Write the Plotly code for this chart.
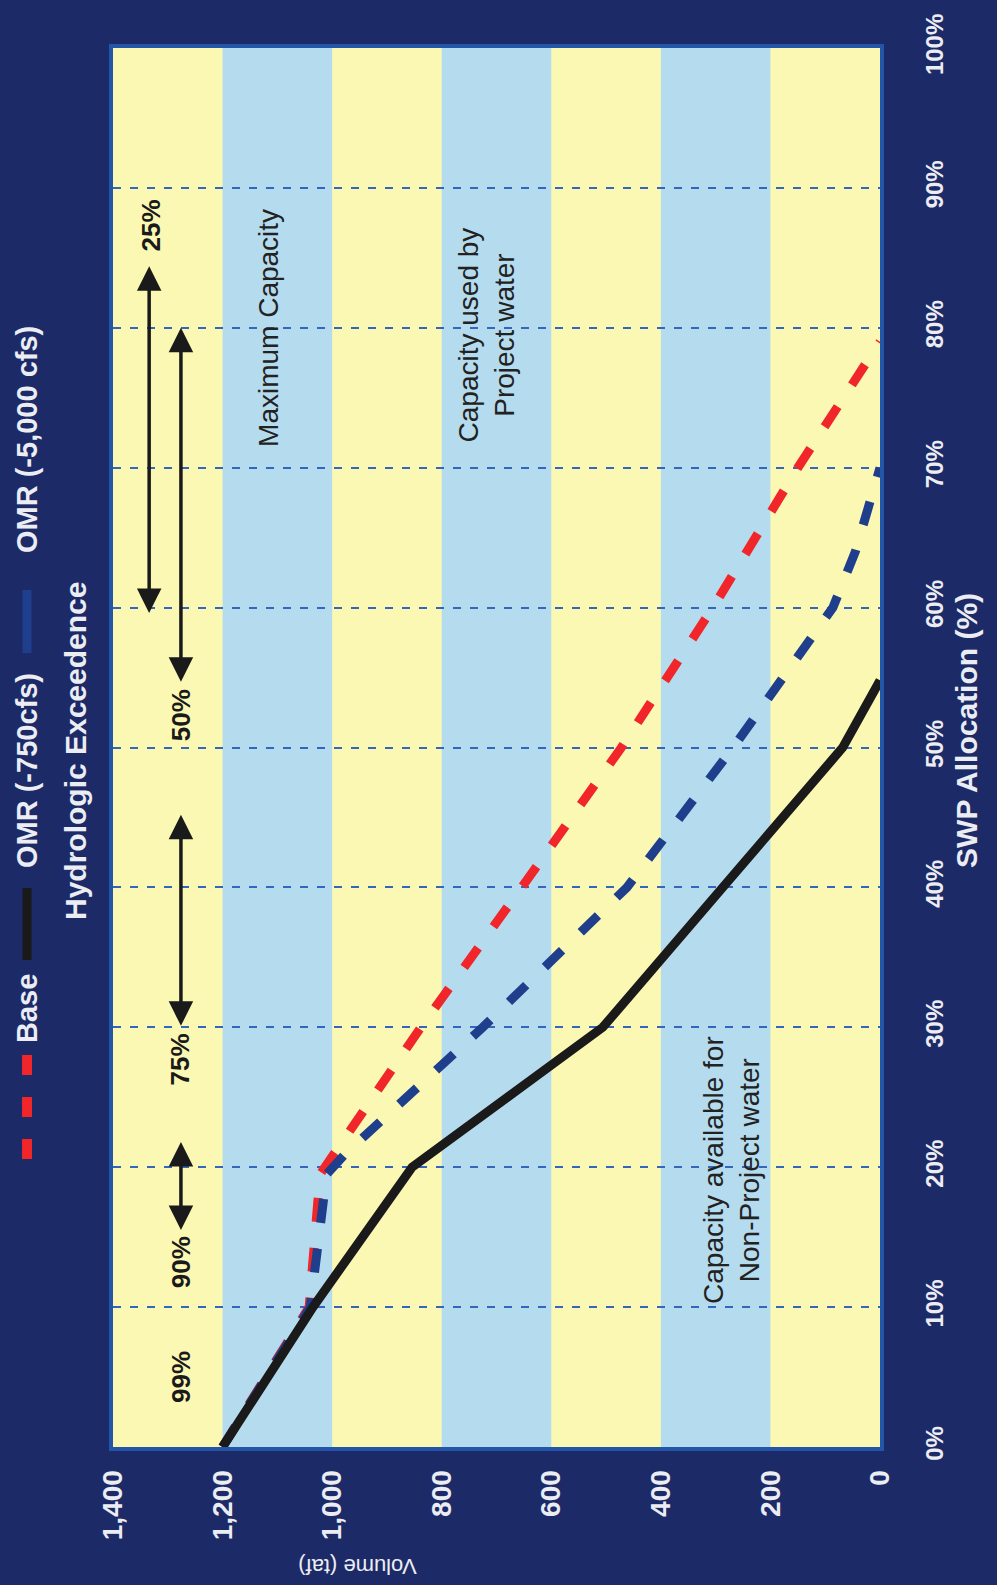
import plotly.graph_objects as go

# ---------------- data ----------------
# SWP Allocation (%) vs Volume (taf)
alloc_base = [0, 10, 19.5, 21.5, 30, 40, 50, 60, 70, 79]
vol_base = [1200, 1042, 1022, 987, 838, 654, 472, 305, 150, 0]

alloc_omr750 = [0, 10, 20, 30, 40, 50, 54.8]
vol_omr750 = [1200, 1035, 854, 506, 287, 68, 0]

alloc_omr5000 = [0, 10, 19.5, 21, 30, 40, 50, 60, 64, 70]
vol_omr5000 = [1200, 1040, 1010, 975, 725, 462, 268, 86, 45, 0]

series_names = ["Base", "OMR (-750cfs)", "OMR (-5,000 cfs)"]

vol_ticks = [0, 200, 400, 600, 800, 1000, 1200, 1400]
vol_ticktext = ["0", "200", "400", "600", "800", "1,000", "1,200", "1,400"]
alloc_ticks = [0, 10, 20, 30, 40, 50, 60, 70, 80, 90, 100]
alloc_ticktext = ["0%", "10%", "20%", "30%", "40%", "50%", "60%", "70%", "80%", "90%", "100%"]

band_edges = [0, 200, 400, 600, 800, 1000, 1200, 1400]

exceed_labels = ["99%", "90%", "75%", "50%", "25%"]
exceed_label_alloc = [5.0, 13.2, 27.7, 52.3, 87.3]
exceed_arrow_start = [None, 15.4, 30.0, 54.6, 59.5]
exceed_arrow_end = [None, 21.8, 45.2, 80.0, 84.4]

# ---------------- style ----------------
FONT = "Liberation Sans, Arial, Helvetica, sans-serif"
NAVY = "#1c2b68"
YELLOW = "#fbf8b4"
LBLUE = "#b5dcee"
RED = "#f0262a"
DBLUE = "#1f3f8c"
BLACK = "#1a1a1a"
WHITE = "#ecedf3"

exceed_label_vol = [1276, 1276, 1276, 1276, 1331]
exceed_arrow_vol = [1276, 1276, 1276, 1276, 1334]

fig = go.Figure()

fig.add_trace(go.Scatter(x=vol_base, y=alloc_base, mode="lines", name=series_names[0],
                         line=dict(color=RED, width=9, dash="24px,26px"), showlegend=False))
fig.add_trace(go.Scatter(x=vol_omr5000, y=alloc_omr5000, mode="lines", name=series_names[2],
                         line=dict(color=DBLUE, width=9, dash="24px,26px"), showlegend=False))
fig.add_trace(go.Scatter(x=vol_omr750, y=alloc_omr750, mode="lines", name=series_names[1],
                         line=dict(color=BLACK, width=9), showlegend=False))

shapes = []
# alternating bands
for i in range(len(band_edges) - 1):
    if i % 2 == 1:
        shapes.append(dict(type="rect", xref="x", yref="paper", x0=band_edges[i], x1=band_edges[i + 1],
                           y0=0, y1=1, fillcolor=LBLUE, line=dict(width=0), layer="below"))

annotations = []
C = dict(xanchor="center", yanchor="middle", showarrow=False)
# exceedence labels and arrows
for i, lab in enumerate(exceed_labels):
    annotations.append(dict(x=exceed_label_vol[i], y=exceed_label_alloc[i], xref="x", yref="y",
                            text="<b>%s</b>" % lab, textangle=-90,
                            font=dict(family=FONT, size=26, color=BLACK), **C))
    if exceed_arrow_start[i] is not None:
        annotations.append(dict(x=exceed_arrow_vol[i], y=exceed_arrow_end[i], ax=exceed_arrow_vol[i],
                                ay=exceed_arrow_start[i], xref="x", yref="y", axref="x", ayref="y",
                                text="", showarrow=True, arrowhead=2, startarrowhead=2,
                                arrowside="end+start", arrowwidth=3.5, arrowsize=1.4,
                                startarrowsize=1.4, arrowcolor=BLACK, standoff=0, startstandoff=0))

# region texts
annotations.append(dict(x=1115, y=80.0, xref="x", yref="y", text="Maximum Capacity",
                        textangle=-90, font=dict(family=FONT, size=28, color="#222222"), **C))
annotations.append(dict(x=718, y=79.5, xref="x", yref="y", text="Capacity used by<br>Project water",
                        textangle=-90, font=dict(family=FONT, size=28, color="#222222"), **C))
annotations.append(dict(x=272, y=19.8, xref="x", yref="y",
                        text="Capacity available for<br>Non-Project water",
                        textangle=-90, font=dict(family=FONT, size=28, color="#222222"), **C))

# axis titles
annotations.append(dict(x=1.112, y=0.5125, xref="paper", yref="paper", text="<b>SWP Allocation (%)</b>",
                        textangle=-90, font=dict(family=FONT, size=30, color=WHITE), **C))
annotations.append(dict(x=0.318, y=-0.085, xref="paper", yref="paper", text="Volume (taf)",
                        textangle=180, font=dict(family=FONT, size=22, color=WHITE), **C))

# manual legend (rotated)
LX = -0.1121
shapes.append(dict(type="line", xref="paper", yref="paper", x0=LX, x1=LX, y0=0.2802, y1=0.2051,
                   line=dict(color=RED, width=10, dash="20px,22px")))
shapes.append(dict(type="line", xref="paper", yref="paper", x0=LX, x1=LX, y0=0.3996, y1=0.3481,
                   line=dict(color=BLACK, width=9)))
shapes.append(dict(type="line", xref="paper", yref="paper", x0=LX, x1=LX, y0=0.6126, y1=0.5675,
                   line=dict(color=DBLUE, width=9)))
legend_text_y = [0.3131, 0.4832, 0.7198]
for name, ly in zip(series_names, legend_text_y):
    annotations.append(dict(x=LX, y=ly, xref="paper", yref="paper", text="<b>%s</b>" % name,
                            textangle=-90, font=dict(family=FONT, size=29, color=WHITE), **C))
annotations.append(dict(x=-0.0482, y=0.4975, xref="paper", yref="paper", text="<b>Hydrologic Exceedence</b>",
                        textangle=-90, font=dict(family=FONT, size=30, color=WHITE), **C))

fig.update_layout(
    width=997, height=1585,
    margin=dict(l=113, r=117, t=48, b=138),
    paper_bgcolor=NAVY, plot_bgcolor=YELLOW,
    shapes=shapes, annotations=annotations,
    showlegend=False,
    xaxis=dict(range=[1400, 0], tickvals=vol_ticks, ticktext=vol_ticktext, tickangle=-90,
               tickfont=dict(family=FONT, size=28, color=WHITE, weight="bold"),
               showgrid=False, zeroline=False, showline=True, linecolor="#2355a8", linewidth=4,
               mirror=True, ticks="", ticklabelstandoff=8),
    yaxis=dict(range=[0, 100], side="right", tickvals=alloc_ticks, ticktext=alloc_ticktext, tickangle=-90,
               tickfont=dict(family=FONT, size=24, color=WHITE, weight="bold"),
               showgrid=True, gridcolor="#3566be", gridwidth=2, griddash="8px,9px",
               zeroline=False, showline=True, linecolor="#2355a8", linewidth=4, mirror=True,
               ticks="", ticklabelstandoff=30),
)

fig.write_html("out.html", config={"displayModeBar": False},
               post_script="document.body.style.margin='0';document.body.style.overflow='hidden';"
                           "document.body.style.background='%s';" % NAVY)
